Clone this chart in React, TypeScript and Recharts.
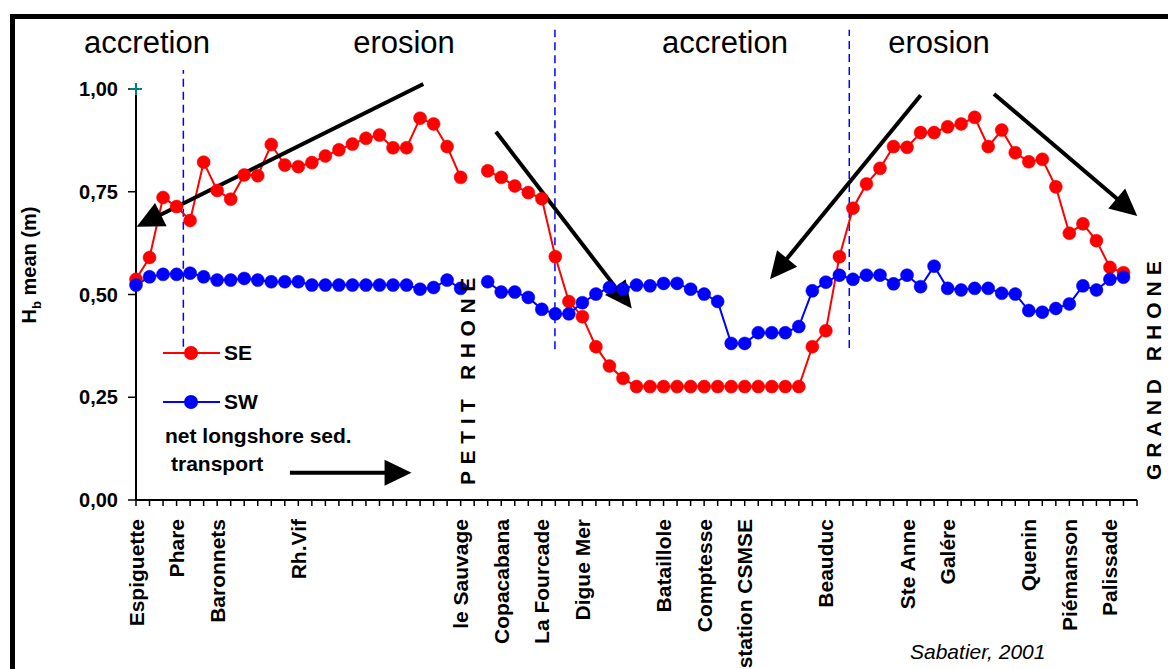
import React from 'react';
import { LineChart, Line, XAxis, YAxis, ReferenceLine, ReferenceDot, Legend } from 'recharts';

const FONT = '"Liberation Sans", Arial, sans-serif';

// beach stations along the coast, one slot per profile
const stations = [
  'Espiguette', '', '', 'Phare', '', '', 'Baronnets', '', '', '',
  '', '', 'Rh.Vif', '', '', '', '', '', '', '',
  '', '', '', '', 'le Sauvage', '', '', 'Copacabana', '', '',
  'La Fourcade', '', '', 'Digue Mer', '', '', '', '', '', 'Bataillole',
  '', '', 'Comptesse', '', '', 'station CSMSE', '', '', '', '',
  '', 'Beauduc', '', '', '', '', '', 'Ste Anne', '', '',
  'Galére', '', '', '', '', '', 'Quenin', '', '', 'Piémanson',
  '', '', 'Palissade', '', '',
];

const seMean = [
  0.537, 0.59, 0.736, 0.714, 0.68, 0.822, 0.753, 0.732, 0.791, 0.789,
  0.865, 0.815, 0.811, 0.821, 0.837, 0.852, 0.866, 0.88, 0.888, 0.857,
  0.857, 0.929, 0.915, 0.86, 0.785, null, 0.801, 0.785, 0.764, 0.748,
  0.733, 0.592, 0.483, 0.446, 0.373, 0.326, 0.296, 0.276, 0.276, 0.276,
  0.276, 0.276, 0.276, 0.276, 0.276, 0.276, 0.276, 0.276, 0.276, 0.276,
  0.373, 0.412, 0.592, 0.71, 0.769, 0.807, 0.86, 0.858, 0.894, 0.894,
  0.908, 0.915, 0.931, 0.86, 0.9, 0.845, 0.823, 0.829, 0.762, 0.649,
  0.672, 0.631, 0.566, 0.553, null,
];

const swMean = [
  0.523, 0.543, 0.549, 0.549, 0.552, 0.543, 0.535, 0.535, 0.539, 0.535,
  0.531, 0.531, 0.531, 0.523, 0.523, 0.523, 0.523, 0.523, 0.523, 0.523,
  0.523, 0.513, 0.517, 0.535, 0.515, null, 0.531, 0.506, 0.506, 0.493,
  0.464, 0.453, 0.453, 0.48, 0.501, 0.517, 0.513, 0.523, 0.521, 0.527,
  0.527, 0.513, 0.501, 0.483, 0.381, 0.381, 0.407, 0.407, 0.407, 0.422,
  0.509, 0.53, 0.547, 0.537, 0.547, 0.547, 0.526, 0.547, 0.519, 0.569,
  0.515, 0.511, 0.515, 0.515, 0.503, 0.501, 0.461, 0.457, 0.466, 0.477,
  0.521, 0.511, 0.537, 0.542, null,
];

const yTicks = [0, 0.25, 0.5, 0.75, 1];

// boundaries between accretion / erosion cells
const cellLimits = [
  { x: 3.5, from: 0.373, to: 1.046 },
  { x: 30.97, from: 0.367, to: 1.144 },
  { x: 52.73, from: 0.37, to: 1.144 },
];

// drift arrows, [station index, Hb] from tail to tip
const arrows = [
  { from: [21.24, 1.012], to: [0.05, 0.665] },
  { from: [26.61, 0.896], to: [36.65, 0.466] },
  { from: [58.01, 0.985], to: [46.87, 0.537] },
  { from: [63.43, 0.988], to: [74.02, 0.691] },
  { from: [11.38, 0.066], to: [20.37, 0.066] },
];

const data = stations.map((name, i) => ({ i, name, se: seMean[i], sw: swMean[i] }));
const xTicks = stations.map((_, i) => i);

const StationTick = (props: any) => {
  const { x, y, payload } = props;
  const name = stations[payload.value];
  if (!name) return <g />;
  return (
    <text
      x={x}
      y={y}
      dy="0.36em"
      transform={`rotate(-90, ${x}, ${y})`}
      textAnchor="end"
      fontSize={21}
      fontWeight={700}
      fontFamily={FONT}
      fill="#000"
    >
      {name}
    </text>
  );
};

const ArrowShape = (props: any) => {
  const { x1, y1, x2, y2 } = props;
  const dx = x2 - x1;
  const dy = y2 - y1;
  const len = Math.sqrt(dx * dx + dy * dy) || 1;
  const ux = dx / len;
  const uy = dy / len;
  const head = 27;
  const half = 13;
  const bx = x2 - ux * head;
  const by = y2 - uy * head;
  return (
    <g>
      <line x1={x1} y1={y1} x2={bx + ux * 2} y2={by + uy * 2} stroke="#000" strokeWidth={4} />
      <polygon
        points={`${x2},${y2} ${bx - uy * half},${by + ux * half} ${bx + uy * half},${by - ux * half}`}
        fill="#000"
      />
    </g>
  );
};

const PlusShape = (props: any) => {
  const { cx, cy } = props;
  return (
    <g stroke="#008080" strokeWidth={2}>
      <line x1={cx - 6} y1={cy} x2={cx + 6} y2={cy} />
      <line x1={cx} y1={cy - 6} x2={cx} y2={cy + 6} />
    </g>
  );
};

const renderLegend = (props: any) => {
  const { payload } = props;
  return (
    <div>
      {payload.map((entry: any) => (
        <div key={entry.value} style={{ display: 'flex', alignItems: 'center', height: 49 }}>
          <svg width={62} height={20}>
            <line x1={2} y1={10} x2={59} y2={10} stroke={entry.color} strokeWidth={2} />
            <circle cx={30} cy={10} r={7} fill={entry.color} />
          </svg>
          <span style={{ fontFamily: FONT, fontSize: 21, fontWeight: 700, color: '#000', marginLeft: 1 }}>
            {entry.value}
          </span>
        </div>
      ))}
    </div>
  );
};

const textStyle = { fontFamily: FONT, fill: '#000' };

const App = () => {
  return (
    <div style={{ position: 'absolute', left: 0, top: 0, width: 1168, height: 669, overflow: 'hidden', background: '#fff' }}>
      <div
        style={{
          position: 'absolute',
          left: 10,
          top: 14,
          width: 1200,
          height: 700,
          border: '5px solid #000',
          boxSizing: 'border-box',
        }}
      />
      <LineChart
        width={1168}
        height={669}
        data={data}
        margin={{ top: 89, right: 31, bottom: 9, left: 76 }}
        style={{ position: 'absolute', left: 0, top: 0 }}
      >
        <XAxis
          type="number"
          dataKey="i"
          domain={[0, 74]}
          ticks={xTicks}
          interval={0}
          height={160}
          tickSize={6}
          tickMargin={13}
          axisLine={{ stroke: '#000', strokeWidth: 2 }}
          tickLine={{ stroke: '#000', strokeWidth: 1.5 }}
          tick={<StationTick />}
        />
        <YAxis
          type="number"
          domain={[0, 1]}
          ticks={yTicks}
          width={60}
          tickSize={8}
          tickMargin={10}
          tickFormatter={(v: number) => v.toFixed(2).replace('.', ',')}
          axisLine={{ stroke: '#000', strokeWidth: 2 }}
          tickLine={{ stroke: '#000', strokeWidth: 1.5 }}
          tick={{ fill: '#000', fontSize: 20, fontWeight: 700, fontFamily: FONT }}
        />
        {cellLimits.map((c, k) => (
          <ReferenceLine
            key={`cell-${k}`}
            segment={[{ x: c.x, y: c.from }, { x: c.x, y: c.to }]}
            stroke="#0000FF"
            strokeWidth={1.5}
            strokeDasharray="8 5"
            ifOverflow="visible"
          />
        ))}
        <Line
          dataKey="se"
          name="SE"
          stroke="#FF0000"
          strokeWidth={2}
          dot={{ r: 6.5, fill: '#FF0000', stroke: '#FF0000', strokeWidth: 0.5 }}
          connectNulls={false}
          isAnimationActive={false}
        />
        <Line
          dataKey="sw"
          name="SW"
          stroke="#0000FF"
          strokeWidth={2}
          dot={{ r: 6.5, fill: '#0000FF', stroke: '#0000FF', strokeWidth: 0.5 }}
          connectNulls={false}
          isAnimationActive={false}
        />
        {arrows.map((a, k) => (
          <ReferenceLine
            key={`arrow-${k}`}
            segment={[{ x: a.from[0], y: a.from[1] }, { x: a.to[0], y: a.to[1] }]}
            ifOverflow="visible"
            shape={ArrowShape}
          />
        ))}
        <ReferenceDot x={0} y={1} r={6} ifOverflow="visible" shape={PlusShape} />
        <Legend
          layout="vertical"
          verticalAlign="middle"
          align="center"
          wrapperStyle={{ left: 161, top: 328, width: 130, right: 'auto', bottom: 'auto' }}
          content={renderLegend}
        />
      </LineChart>
      <svg width={1168} height={669} style={{ position: 'absolute', left: 0, top: 0, pointerEvents: 'none' }}>
        <g style={textStyle} fontSize={31}>
          <text x={147} y={53} textAnchor="middle">accretion</text>
          <text x={404} y={53} textAnchor="middle">erosion</text>
          <text x={725} y={53} textAnchor="middle">accretion</text>
          <text x={939} y={53} textAnchor="middle">erosion</text>
        </g>
        <text
          transform="translate(36,265) rotate(-90)"
          textAnchor="middle"
          fontSize={20}
          fontWeight={700}
          style={textStyle}
        >
          H<tspan fontSize={13} dy={5}>b</tspan>
          <tspan dy={-5}> mean (m)</tspan>
        </text>
        <g fontSize={21} fontWeight={700} style={textStyle}>
          <text x={165} y={443}>net longshore sed.</text>
          <text x={171} y={471}>transport</text>
        </g>
        <text
          transform="translate(475,485) rotate(-90)"
          fontSize={21}
          fontWeight={700}
          letterSpacing={6.6}
          style={textStyle}
        >
          PETIT RHONE
        </text>
        <text
          transform="translate(1161,480) rotate(-90)"
          fontSize={21}
          fontWeight={700}
          letterSpacing={6}
          style={textStyle}
        >
          GRAND RHONE
        </text>
        <text x={910} y={659} fontSize={21} fontStyle="italic" style={textStyle}>
          Sabatier, 2001
        </text>
      </svg>
    </div>
  );
};

export default App;
